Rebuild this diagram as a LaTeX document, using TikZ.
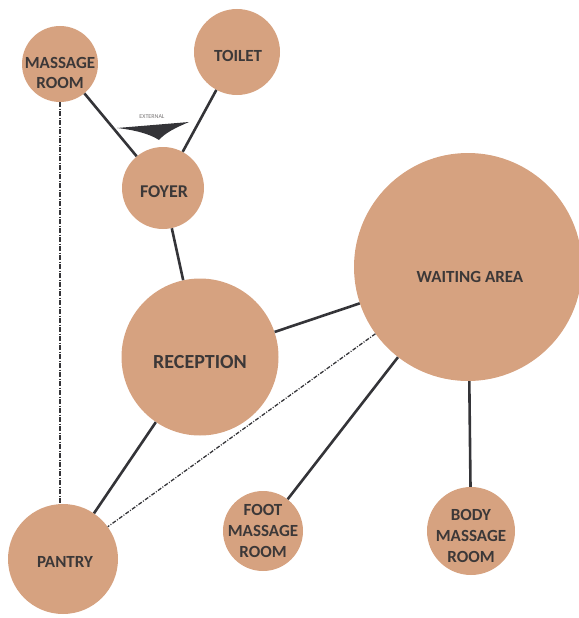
\documentclass[tikz,border=0pt]{standalone}
\usepackage{fontspec}
\setmainfont{Carlito}
\definecolor{tan}{RGB}{214,162,128}
\definecolor{ink}{RGB}{60,56,56}
\definecolor{wire}{RGB}{52,52,56}
\begin{document}
\begin{tikzpicture}[x=1pt,y=-1pt,
  room/.style={circle,fill=tan,draw=none,inner sep=0pt},
  lbl/.style={text=ink,font=\bfseries\fontsize{17}{20}\selectfont,align=center},
  link/.style={draw=wire,line width=2.6pt},
  dashlink/.style={draw=wire,line width=1.3pt,dash pattern=on 4pt off 1.5pt on 1pt off 1.5pt},
  dotlink/.style={draw=wire,line width=1.4pt,dash pattern=on 5pt off 1.5pt on 1pt off 1.5pt}]
\useasboundingbox (0,0) rectangle (578,618);
% rooms
\node[room,minimum size=76pt] (mass) at (60,64) {};
\node[lbl] (massT) at (60,73) {MASSAGE\\ROOM};
\node[room,minimum size=86pt] (toil) at (237,52) {};
\node[lbl] (toilT) at (238,56) {TOILET};
\node[room,minimum size=82pt] (foy) at (163,188) {};
\node[lbl,font=\bfseries\fontsize{18}{20}\selectfont] (foyT) at (164,192) {FOYER};
\node[room,minimum size=157pt] (rec) at (200,357) {};
\node[lbl,font=\bfseries\fontsize{20}{24}\selectfont] (recT) at (200,362) {RECEPTION};
\node[room,minimum size=228pt] (wait) at (468,267) {};
\node[lbl] (waitT) at (470,277) {WAITING AREA};
\node[room,minimum size=110pt] (pan) at (63,559) {};
\node[lbl] (panT) at (65,562) {PANTRY};
\node[room,minimum size=80pt] (foot) at (263,531) {};
\node[lbl,font=\bfseries\fontsize{17}{21}\selectfont] (footT) at (263,531) {FOOT\\MASSAGE\\ROOM};
\node[room,minimum size=88pt] (body) at (471,531) {};
\node[lbl,font=\bfseries\fontsize{17}{21}\selectfont] (bodyT) at (471,536) {BODY\\MASSAGE\\ROOM};
% connectors
\draw[link] (mass) -- (foy);
\draw[link] (toil) -- (foy);
\draw[link] (foy) -- (rec);
\draw[link] (rec) -- (wait);
\draw[link] (rec) -- (pan);
\draw[link] (wait) -- (foot);
\draw[link] (wait) -- (body);
\draw[dashlink] (wait) -- (pan);
\draw[dotlink] (mass.south) -- (pan.north -| mass.south);
% external arrow
\fill[wire] (117,128) -- (189,122) .. controls (175,128) and (165,133) .. (159,140)
  .. controls (150,134) and (135,130) .. cycle;
\node[font=\fontsize{6}{7}\selectfont,text=ink!70] (ext) at (152,117) {EXTERNAL};
\end{tikzpicture}
\end{document}
